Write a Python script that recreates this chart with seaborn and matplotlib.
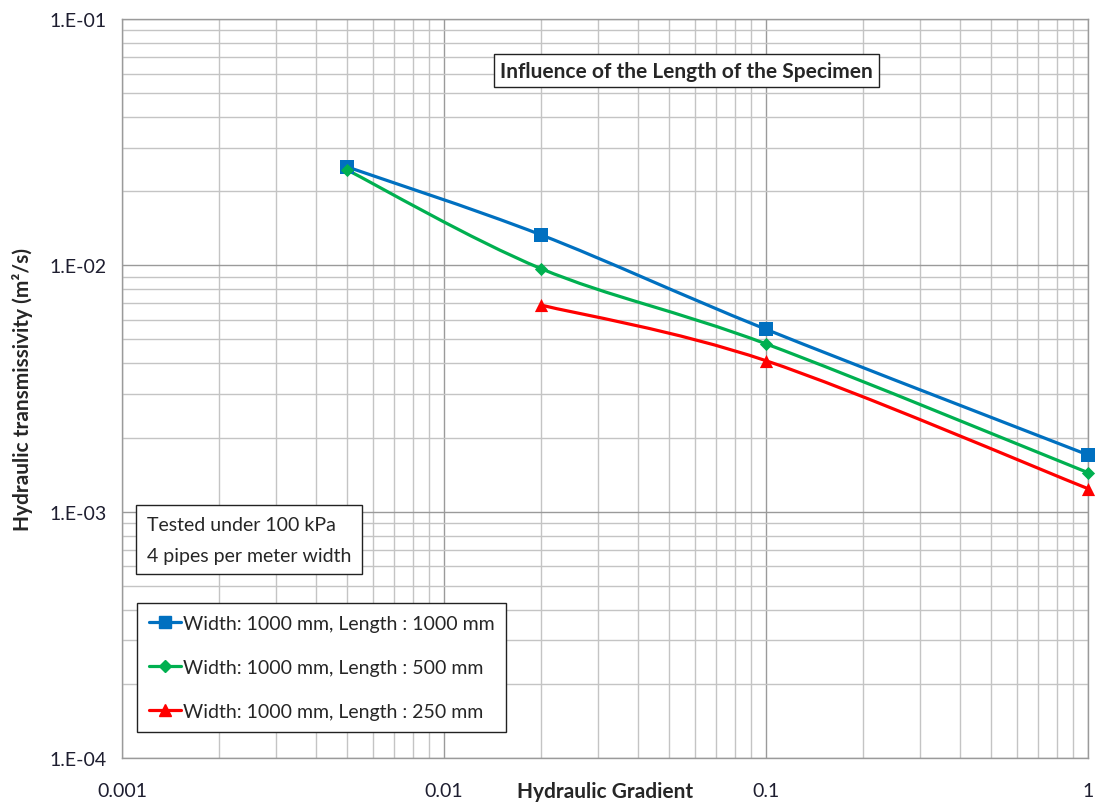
import numpy as np
import pandas as pd
import matplotlib.pyplot as plt
import seaborn as sns
from matplotlib.path import Path
from matplotlib.patches import PathPatch
from matplotlib.lines import Line2D
from matplotlib.ticker import FuncFormatter, FixedLocator, LogLocator

# data
grad_1000 = [0.005, 0.02, 0.1, 1.0]
trans_1000 = [0.0251, 0.0133, 0.0055, 0.0017]
grad_500 = [0.005, 0.02, 0.1, 1.0]
trans_500 = [0.0244, 0.0097, 0.0048, 0.00144]
grad_250 = [0.02, 0.1, 1.0]
trans_250 = [0.0069, 0.0041, 0.00124]
series_labels = ["Width: 1000 mm, Length : 1000 mm",
                 "Width: 1000 mm, Length : 500 mm",
                 "Width: 1000 mm, Length : 250 mm"]
x_ticks = [0.001, 0.01, 0.1, 1]
x_tick_labels = ["0.001", "0.01", "0.1", "1"]
y_ticks = [1e-4, 1e-3, 1e-2, 1e-1]

sns.set_style("white")
plt.rcParams['font.family'] = ['Lato', 'DejaVu Sans']

colors = ["#0070C0", "#00B050", "#FF0000"]
markers = ["s", "D", "^"]
msizes = [95, 45, 90]

frames = []
for g, t, lab in zip([grad_1000, grad_500, grad_250],
                     [trans_1000, trans_500, trans_250], series_labels):
    frames.append(pd.DataFrame({"gradient": g, "trans": t, "series": lab}))
df = pd.concat(frames, ignore_index=True)


def smooth_path(x, y):
    # Excel-like smoothed line: cubic bezier through the points in log space
    pts = np.column_stack([np.log10(x), np.log10(y)])
    n = len(pts)
    verts = [pts[0]]
    codes = [Path.MOVETO]
    for i in range(n - 1):
        p0 = pts[max(i - 1, 0)]
        p1 = pts[i]
        p2 = pts[i + 1]
        p3 = pts[min(i + 2, n - 1)]
        verts += [p1 + (p2 - p0) / 6, p2 - (p3 - p1) / 6, p2]
        codes += [Path.CURVE4] * 3
    return Path(10 ** np.array(verts), codes)


fig = plt.figure(figsize=(10.99, 8.03), dpi=100)
ax = fig.add_axes([122 / 1099, 1 - 759 / 803, 966 / 1099, 739 / 803])
ax.set_xscale("log")
ax.set_yscale("log")
ax.set_xlim(0.001, 1)
ax.set_ylim(1e-4, 1e-1)

for lab, c, m, s in zip(series_labels, colors, markers, msizes):
    d = df[df["series"] == lab]
    ax.add_patch(PathPatch(smooth_path(d["gradient"].values, d["trans"].values),
                           facecolor="none", edgecolor=c, lw=2.3, zorder=3))
    sns.scatterplot(data=d, x="gradient", y="trans", color=c, marker=m, s=s,
                    edgecolor=c, linewidth=0, ax=ax, zorder=4, legend=False)
for coll in ax.collections:
    coll.set_clip_on(False)

# grid
ax.xaxis.set_minor_locator(LogLocator(base=10, subs=np.arange(2, 10)))
ax.yaxis.set_minor_locator(LogLocator(base=10, subs=np.arange(2, 10)))
ax.grid(True, which="major", color="#9a9a9a", lw=1.0)
ax.grid(True, which="minor", color="#c4c4c4", lw=1.0)
ax.set_axisbelow(True)
for sp in ax.spines.values():
    sp.set_color("#9a9a9a")
    sp.set_linewidth(1.0)

ax.xaxis.set_major_locator(FixedLocator(x_ticks))
ax.set_xticklabels(x_tick_labels)
ax.yaxis.set_major_locator(FixedLocator(y_ticks))
ax.yaxis.set_major_formatter(FuncFormatter(lambda v, p: f"1.E{int(round(np.log10(v))):03d}"))
ax.tick_params(which="major", length=6, width=1, color="#9a9a9a",
               labelsize=14, labelcolor="#1e1e30", direction="out")
ax.tick_params(axis="x", which="major", pad=11)
ax.tick_params(axis="y", which="major", pad=5)
ax.tick_params(which="minor", length=0)

ax.set_xlabel("Hydraulic Gradient", fontsize=15, fontweight="bold", labelpad=-13)
ax.set_ylabel("Hydraulic transmissivity (m²/s)", fontsize=15, fontweight="bold", labelpad=12)

ax.text(0.584, 0.930, "Influence of the Length of the Specimen", transform=ax.transAxes,
        ha="center", va="center", fontsize=15, fontweight="bold",
        bbox=dict(boxstyle="square,pad=0.3", facecolor="white", edgecolor="#222222", lw=1))

ax.text(0.026, 0.328, "Tested under 100 kPa\n4 pipes per meter width", transform=ax.transAxes,
        ha="left", va="top", fontsize=14, linespacing=2.0,
        bbox=dict(boxstyle="square,pad=0.55", facecolor="white", edgecolor="#222222", lw=1))

handles = [Line2D([], [], color=c, marker=m, lw=2.3, markersize=ms)
           for c, m, ms in zip(colors, markers, [9, 6, 9])]
leg = ax.legend(handles, series_labels, loc="upper left", bbox_to_anchor=(0.0155, 0.2097),
                borderaxespad=0, fontsize=14, frameon=True, fancybox=False,
                framealpha=1, edgecolor="#222222", handlelength=1.65, handletextpad=0.1,
                labelspacing=1.4, borderpad=0.6)
leg.get_frame().set_linewidth(1)

plt.savefig("out.png", dpi=100)
